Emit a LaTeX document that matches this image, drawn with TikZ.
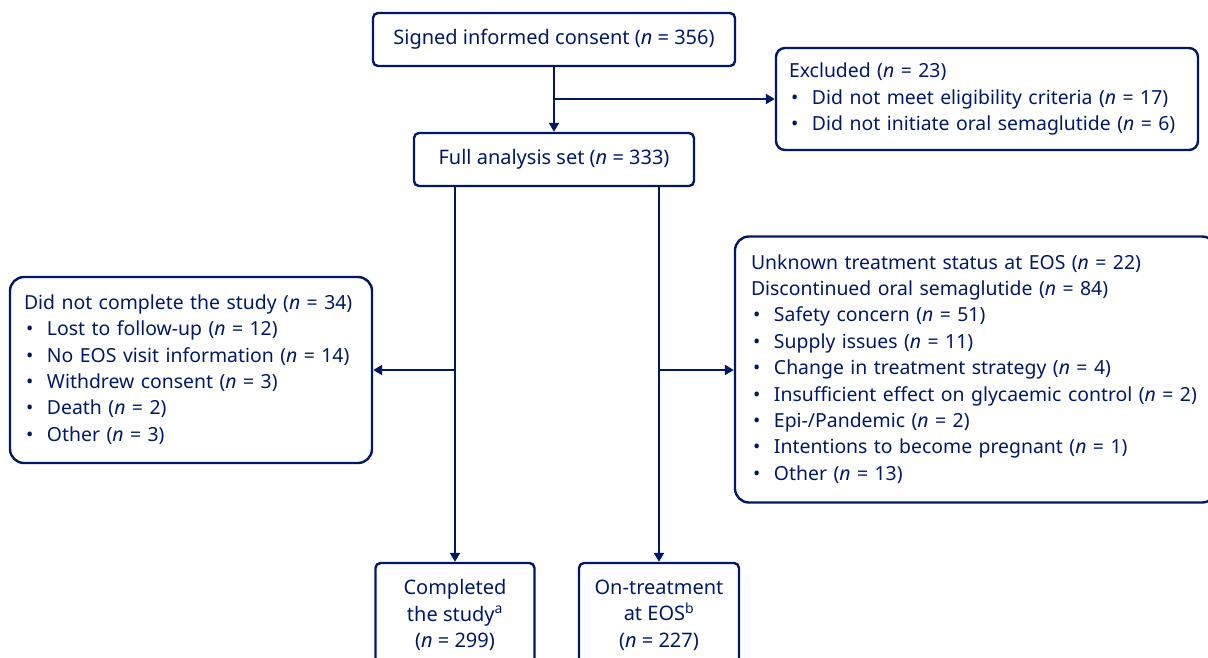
\documentclass[tikz,border=0pt]{standalone}
\usepackage{fontspec}
\setmainfont{Noto Sans}
\usetikzlibrary{arrows.meta}
\definecolor{nnblue}{RGB}{0,25,101}
\newcommand{\itm}{\makebox[23pt][l]{\hspace{2pt}•}}
\begin{document}
\begin{tikzpicture}[x=1pt, y=-1pt,
    every node/.style={font=\fontsize{20}{26.4}\selectfont, text=nnblue},
    box/.style={draw=nnblue, line width=2.4pt, rectangle, rounded corners=5pt, align=center, inner sep=0pt},
    listbox/.style={box, align=left, rounded corners=14pt, font=\fontsize{19.4}{26.4}\selectfont},
    flow/.style={draw=nnblue, line width=2.4pt, -{Triangle[length=9pt, width=10pt]}}]
    \clip (0,0) rectangle (1208,657);
    \node (consent) [box, minimum width=362pt, minimum height=53pt] at (554,39.5) {Signed informed consent (\textit{n} = 356)};
    \node (fas)     [box, minimum width=280pt, minimum height=53pt] at (554,159.5) {Full analysis set (\textit{n} = 333)};
    \node (excl)    [listbox, rounded corners=9pt, inner xsep=13pt, text width=396pt, minimum height=102pt] at (987,99)
        {\begin{tabular}{@{}l@{}}
         Excluded (\textit{n} = 23)\\
         \itm Did not meet eligibility criteria (\textit{n} = 17)\\
         \itm Did not initiate oral semaglutide (\textit{n} = 6)
         \end{tabular}};
    \node (notdone) [listbox, inner xsep=14pt, text width=334pt, minimum height=186pt] at (191,370)
        {\begin{tabular}{@{}l@{}}
         Did not complete the study (\textit{n} = 34)\\
         \itm Lost to follow-up (\textit{n} = 12)\\
         \itm No EOS visit information (\textit{n} = 14)\\
         \itm Withdrew consent (\textit{n} = 3)\\
         \itm Death (\textit{n} = 2)\\
         \itm Other (\textit{n} = 3)
         \end{tabular}};
    \node (unknown) [listbox, inner xsep=16pt, text width=449pt, minimum height=266pt] at (975.5,369.5)
        {\begin{tabular}{@{}l@{}}
         Unknown treatment status at EOS (\textit{n} = 22)\\
         Discontinued oral semaglutide (\textit{n} = 84)\\
         \itm Safety concern (\textit{n} = 51)\\
         \itm Supply issues (\textit{n} = 11)\\
         \itm Change in treatment strategy (\textit{n} = 4)\\
         \itm Insufficient effect on glycaemic control (\textit{n} = 2)\\
         \itm Epi-/Pandemic (\textit{n} = 2)\\
         \itm Intentions to become pregnant (\textit{n} = 1)\\
         \itm Other (\textit{n} = 13)
         \end{tabular}};
    \node (done)    [box, minimum width=159pt, minimum height=104pt] at (455,615)
        {Completed\\ the study\textsuperscript{a}\\ (\textit{n} = 299)};
    \node (ontreat) [box, minimum width=160pt, minimum height=104pt] at (659,615)
        {On-treatment\\ at EOS\textsuperscript{b}\\ (\textit{n} = 227)};
    \coordinate (split) at (consent.south |- excl.west);
    \draw[flow] (consent) -- (fas);
    \draw[flow] (split) -- (excl.west);
    \draw[flow] (fas.south -| done.north) -- (done.north);
    \draw[flow] (fas.south -| ontreat.north) -- (ontreat.north);
    \draw[flow] (notdone.east -| done.north) -- (notdone.east);
    \draw[flow] (notdone.east -| ontreat.north) -- (unknown.west |- notdone.east);
\end{tikzpicture}
\end{document}
